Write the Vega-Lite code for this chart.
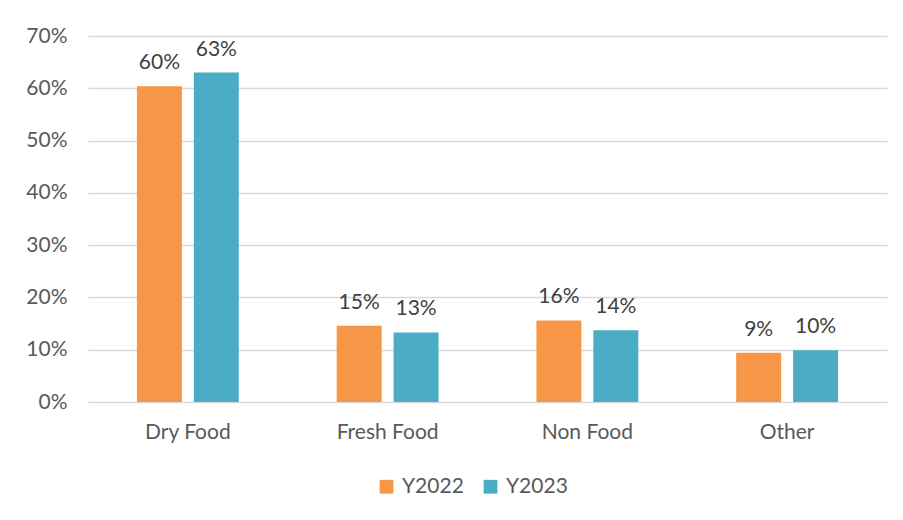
{
  "$schema": "https://vega.github.io/schema/vega-lite/v6.json",
  "autosize": {"type": "none"},
  "width": 799,
  "height": 366,
  "padding": {"left": 88, "top": 36, "right": 16, "bottom": 118},
  "background": "white",
  "data": {"values": [
    {"category": "Dry Food", "year": "Y2022", "value": 0.604},
    {"category": "Dry Food", "year": "Y2023", "value": 0.630},
    {"category": "Fresh Food", "year": "Y2022", "value": 0.146},
    {"category": "Fresh Food", "year": "Y2023", "value": 0.133},
    {"category": "Non Food", "year": "Y2022", "value": 0.156},
    {"category": "Non Food", "year": "Y2023", "value": 0.137},
    {"category": "Other", "year": "Y2022", "value": 0.094},
    {"category": "Other", "year": "Y2023", "value": 0.099}
  ]},
  "encoding": {
    "x": {"field": "category", "type": "nominal", "sort": null,
      "scale": {"paddingInner": 0.49, "paddingOuter": 0.245},
      "axis": {"title": null, "labelAngle": 0, "ticks": false, "domain": false, "grid": false,
        "labelFont": "Lato", "labelFontSize": 21, "labelColor": "#595959", "labelPadding": 19}},
    "xOffset": {"field": "year", "type": "nominal", "scale": {"paddingInner": 0.21, "paddingOuter": 0}},
    "y": {"field": "value", "type": "quantitative",
      "scale": {"domain": [0, 0.7]},
      "axis": {"title": null, "format": ".0%", "values": [0, 0.1, 0.2, 0.3, 0.4, 0.5, 0.6, 0.7],
        "labelOverlap": false, "ticks": false, "domain": false, "gridColor": "#D9D9D9", "gridWidth": 1.5,
        "labelFont": "Lato", "labelFontSize": 21, "labelColor": "#595959", "labelPadding": 21}}
  },
  "layer": [
    {"mark": {"type": "bar"},
     "encoding": {
       "color": {"field": "year", "type": "nominal",
         "scale": {"domain": ["Y2022", "Y2023"], "range": ["#F79646", "#4BACC6"]},
         "legend": {"title": null, "orient": "none", "legendX": 288, "legendY": 440, "direction": "horizontal", "symbolType": "square",
           "symbolSize": 190, "symbolStrokeWidth": 0, "labelFont": "Lato", "labelFontSize": 21,
           "labelColor": "#595959", "columnPadding": 16, "labelOffset": 5}}
     }},
    {"mark": {"type": "text", "baseline": "bottom", "dy": -13, "font": "Lato", "fontSize": 21, "color": "#404040"},
     "encoding": {"text": {"field": "value", "type": "quantitative", "format": ".0%"}}}
  ],
  "config": {"view": {"stroke": null}}
}
